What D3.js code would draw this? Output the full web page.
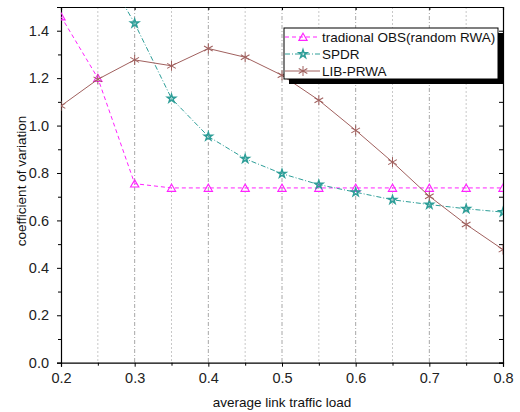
<!DOCTYPE html>
<html><head><meta charset="utf-8">
<script src="https://cdn.jsdelivr.net/npm/d3@7"></script>
<style>body{margin:0;background:#fff}svg{display:block}</style>
</head><body><svg id="c" width="520" height="412"></svg>
<script>
const loads = [0.2,0.25,0.3,0.35,0.4,0.45,0.5,0.55,0.6,0.65,0.7,0.75,0.8];
const tradOBS = [1.46,1.20,0.755,0.737,0.737,0.737,0.737,0.737,0.737,0.737,0.737,0.737,0.737];
const spdr = [1.95,1.70,1.431,1.114,0.954,0.860,0.797,0.751,0.719,0.687,0.667,0.649,0.635];
const libPrwa = [1.083,1.195,1.277,1.252,1.325,1.288,1.212,1.107,0.980,0.846,0.702,0.583,0.477];
const seriesNames = ["tradional OBS(random RWA)","SPDR","LIB-PRWA"];
const xTicks = [0.2,0.3,0.4,0.5,0.6,0.7,0.8];
const yTicks = [0,0.2,0.4,0.6,0.8,1.0,1.2,1.4];

const svg = d3.select("#c");
const L=61,R=503,T=7,B=362.7;
const x = d3.scaleLinear().domain([0.2,0.8]).range([L,R]);
const y = d3.scaleLinear().domain([0,1.5]).range([B,T]);
const font = "'Liberation Sans', Arial, sans-serif";

// grid
const g = svg.append("g");
loads.forEach((v,i)=>{
  if(i===0||i===loads.length-1) return;
  const major = Math.abs(v*10-Math.round(v*10))<1e-6;
  g.append("line").attr("x1",x(v)).attr("x2",x(v)).attr("y1",T).attr("y2",B)
   .attr("stroke",major?"#a8a8a8":"#c8c8c8").attr("stroke-width",1)
   .attr("stroke-dasharray",major?"4,2,1,2":"2,2");
});

svg.append("defs").append("clipPath").attr("id","clip").append("rect")
  .attr("x",L).attr("y",T).attr("width",R-L).attr("height",B-T);

// axes
const xAx = svg.append("g").attr("transform",`translate(0,${B})`)
  .call(d3.axisBottom(x).tickValues(xTicks).tickFormat(d3.format(".1f")).tickSize(4).tickPadding(6));
const yAx = svg.append("g").attr("transform",`translate(${L},0)`)
  .call(d3.axisLeft(y).tickValues(yTicks).tickFormat(d3.format(".1f")).tickSize(4).tickPadding(8));
[xAx,yAx].forEach(a=>{a.select(".domain").attr("stroke","#000").attr("stroke-width",1.2);
  a.selectAll("text").attr("font-family",font).attr("font-size",14.5).attr("fill","#222");
  a.selectAll(".tick line").attr("stroke","#000");});
// minor ticks
svg.append("g").attr("transform",`translate(0,${B})`)
  .call(d3.axisBottom(x).tickValues(loads.filter((v,i)=>i%2===1)).tickSize(3).tickFormat(""))
  .call(a=>a.select(".domain").remove());
svg.append("g").attr("transform",`translate(${L},0)`)
  .call(d3.axisLeft(y).tickValues(d3.range(0.1,1.5,0.2)).tickSize(3).tickFormat(""))
  .call(a=>a.select(".domain").remove());
// top & right axes
svg.append("g").attr("transform",`translate(0,${T})`)
  .call(d3.axisTop(x).tickValues(xTicks).tickSize(-3).tickFormat(""))
  .call(a=>a.select(".domain").attr("stroke-width",1.2));
svg.append("g").attr("transform",`translate(${R},0)`)
  .call(d3.axisRight(y).tickValues(d3.range(0,1.5,0.1)).tickSize(-4).tickFormat(""))
  .call(a=>a.select(".domain").attr("stroke-width",1.2));

svg.append("text").attr("x",282).attr("y",407).attr("text-anchor","middle")
  .attr("font-family",font).attr("font-size",13.5).attr("fill","#111").text("average link traffic load");
svg.append("text").attr("transform",`translate(26,181) rotate(-90)`).attr("text-anchor","middle")
  .attr("font-family",font).attr("font-size",13.5).attr("fill","#111").text("coefficient of variation");

const series = [
  {name:seriesNames[0],vals:tradOBS,color:"#ff22ff",dash:"4,3",marker:"tri"},
  {name:seriesNames[1],vals:spdr,color:"#2e9e98",dash:"5,2,1,2",marker:"star"},
  {name:seriesNames[2],vals:libPrwa,color:"#a0605e",dash:null,marker:"ast"},
];
function drawMarker(sel,type,color){
  if(type==="tri"){
    sel.append("path").attr("d",d3.symbol(d3.symbolTriangle,30)()).attr("transform","translate(0,1)")
      .attr("fill","none").attr("stroke",color).attr("stroke-width",1.1);
  } else if(type==="star"){
    sel.append("path").attr("d",d3.symbol(d3.symbolStar,20)()).attr("fill","none").attr("stroke",color).attr("stroke-width",1.5);
  } else {
    [0,60,120].forEach(a=>sel.append("line").attr("x1",0).attr("y1",-5).attr("x2",0).attr("y2",5)
      .attr("transform",`rotate(${a})`).attr("stroke",color).attr("stroke-width",1));
  }
}
const plot = svg.append("g").attr("clip-path","url(#clip)");
const line = d3.line().x((d,i)=>x(loads[i])).y(d=>y(d));
series.forEach(s=>{
  plot.append("path").datum(s.vals).attr("d",line).attr("fill","none").attr("stroke",s.color)
    .attr("stroke-width",1).attr("stroke-dasharray",s.dash);
  s.vals.forEach((v,i)=>{
    const m = plot.append("g").attr("transform",`translate(${x(loads[i])},${y(v)})`);
    drawMarker(m,s.marker,s.color);
  });
});

// legend
const lg = svg.append("g");
lg.append("rect").attr("x",289).attr("y",33).attr("width",214).attr("height",51).attr("fill","#000");
lg.append("rect").attr("x",284).attr("y",28).attr("width",214).attr("height",51).attr("fill","#fff").attr("stroke","#000").attr("stroke-width",1);
series.forEach((s,i)=>{
  const yy = 37+i*17;
  lg.append("line").attr("x1",285).attr("x2",320).attr("y1",yy).attr("y2",yy).attr("stroke",s.color)
    .attr("stroke-dasharray",s.dash);
  drawMarker(lg.append("g").attr("transform",`translate(303,${yy})`),s.marker,s.color);
  lg.append("text").attr("x",322).attr("y",yy+5).attr("font-family",font).attr("font-size",13.5)
    .attr("fill","#111").text(s.name);
});
</script></body></html>
